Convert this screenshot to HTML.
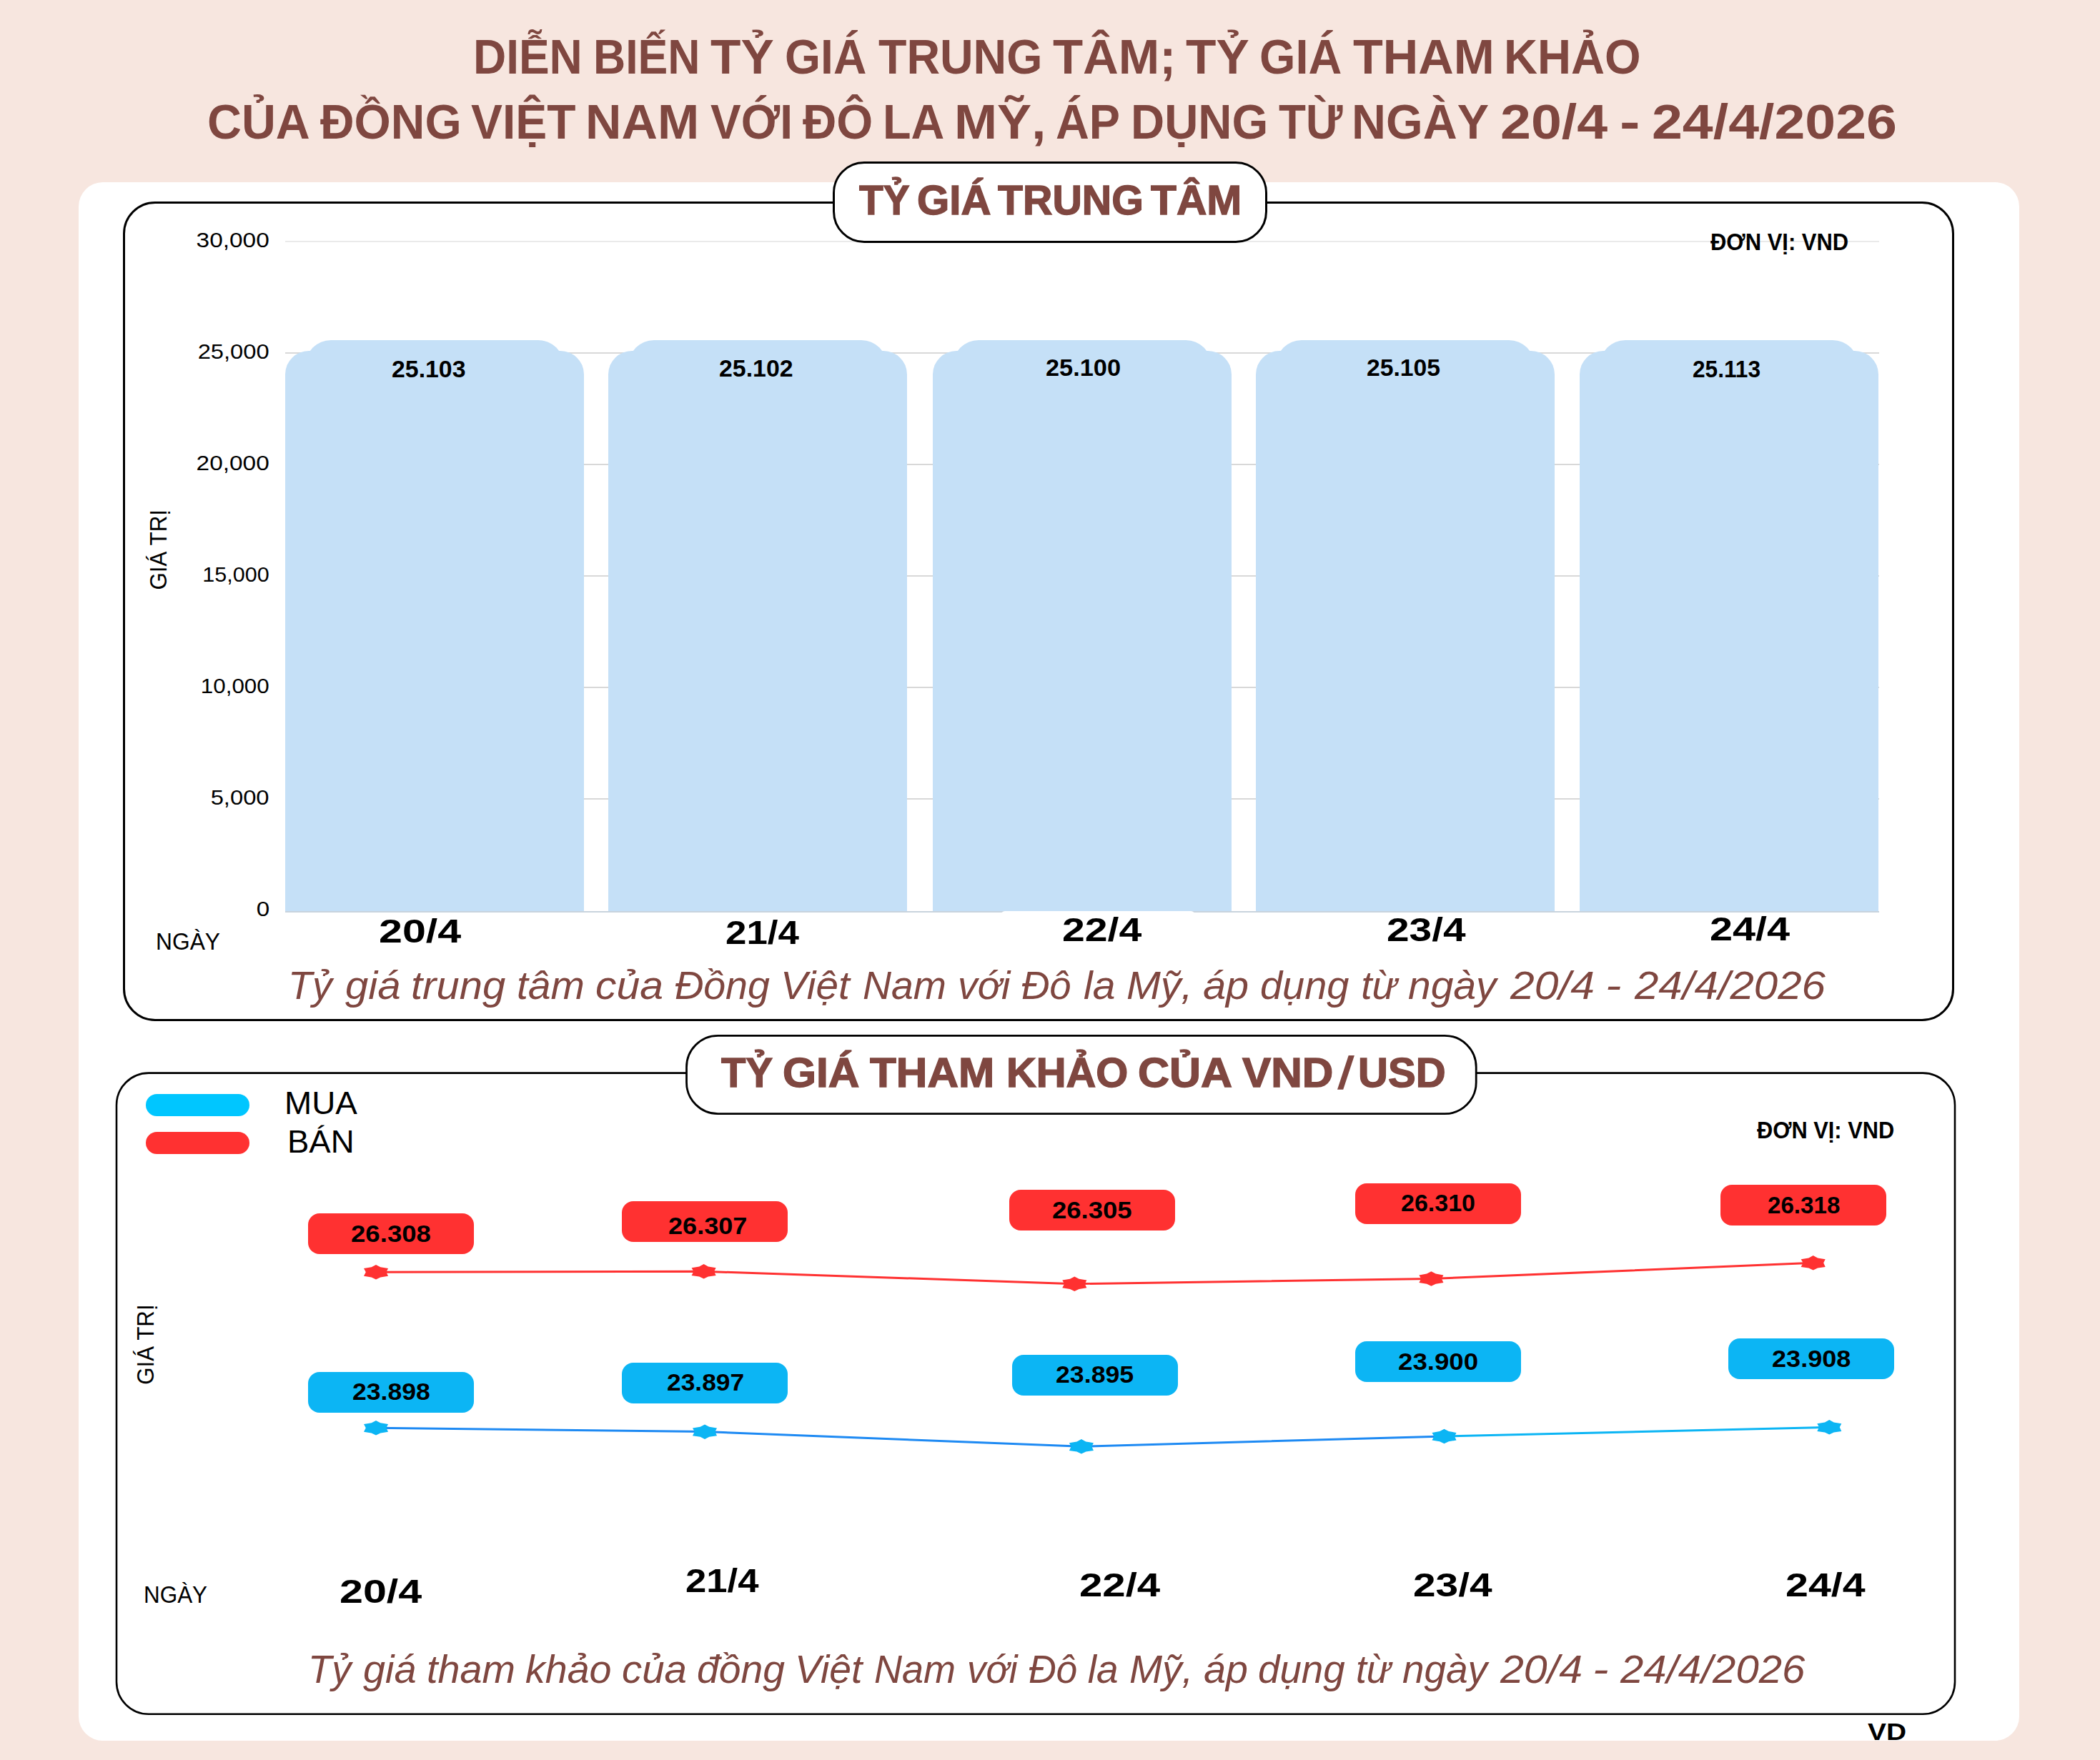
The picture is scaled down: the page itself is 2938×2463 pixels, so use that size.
<!DOCTYPE html>
<html><head><meta charset="utf-8"><style>
html,body{margin:0;padding:0}
body{width:2938px;height:2463px;background:#F7E6DF;position:relative;overflow:hidden;font-family:"Liberation Sans", sans-serif}
.t{position:absolute;white-space:nowrap;line-height:1}
</style></head><body>
<div style="position:absolute;left:110px;top:255px;width:2715px;height:2181px;background:#fff;border-radius:34px;overflow:hidden"></div>
<div style="position:absolute;left:172px;top:281.5px;width:2556px;height:1141px;border:3px solid #000;border-radius:45px"></div>
<div style="position:absolute;left:399px;top:337px;width:2230px;height:2px;background:#EAEAEA"></div>
<div style="position:absolute;left:399px;top:493px;width:2230px;height:2px;background:#D8D8D8"></div>
<div style="position:absolute;left:399px;top:649px;width:2230px;height:2px;background:#D8D8D8"></div>
<div style="position:absolute;left:399px;top:805px;width:2230px;height:2px;background:#D8D8D8"></div>
<div style="position:absolute;left:399px;top:961px;width:2230px;height:2px;background:#D8D8D8"></div>
<div style="position:absolute;left:399px;top:1117px;width:2230px;height:2px;background:#D8D8D8"></div>
<div style="position:absolute;left:399px;top:1275px;width:2230px;height:1.5px;background:#C9D3DD"></div>
<div style="position:absolute;left:399px;top:491px;width:418px;height:784px;background:#C5E0F7;border-radius:33px 33px 0 0"></div>
<div style="position:absolute;left:427px;top:476px;width:362px;height:200px;background:#C5E0F7;border-radius:36px 36px 0 0"></div>
<div style="position:absolute;left:851px;top:491px;width:418px;height:784px;background:#C5E0F7;border-radius:33px 33px 0 0"></div>
<div style="position:absolute;left:879px;top:476px;width:362px;height:200px;background:#C5E0F7;border-radius:36px 36px 0 0"></div>
<div style="position:absolute;left:1305px;top:491px;width:418px;height:784px;background:#C5E0F7;border-radius:33px 33px 0 0"></div>
<div style="position:absolute;left:1333px;top:476px;width:362px;height:200px;background:#C5E0F7;border-radius:36px 36px 0 0"></div>
<div style="position:absolute;left:1757px;top:491px;width:418px;height:784px;background:#C5E0F7;border-radius:33px 33px 0 0"></div>
<div style="position:absolute;left:1785px;top:476px;width:362px;height:200px;background:#C5E0F7;border-radius:36px 36px 0 0"></div>
<div style="position:absolute;left:2210px;top:491px;width:418px;height:784px;background:#C5E0F7;border-radius:33px 33px 0 0"></div>
<div style="position:absolute;left:2238px;top:476px;width:362px;height:200px;background:#C5E0F7;border-radius:36px 36px 0 0"></div>
<div style="position:absolute;left:1400px;top:1275px;width:272px;height:12px;background:#fff;border-radius:6px 6px 0 0"></div>
<div style="position:absolute;left:1164.5px;top:225.5px;width:602px;height:108px;border:3px solid #000;border-radius:44px;background:#fff"></div>
<svg style="position:absolute;left:0;top:0" width="2938" height="2463"><rect x="163" y="1501.6" width="2572" height="897.2" rx="45" ry="45" fill="none" stroke="#000" stroke-width="2.6"/></svg>
<svg style="position:absolute;left:0;top:0" width="2938" height="2463"><rect x="960.5" y="1449.3" width="1104.7" height="109.4" rx="44" ry="44" fill="#fff" stroke="#000" stroke-width="2.8"/></svg>
<div style="position:absolute;left:204px;top:1530.5px;width:145px;height:31px;border-radius:16px;background:#00C6FF"></div>
<div style="position:absolute;left:204px;top:1583.5px;width:145px;height:31px;border-radius:16px;background:#FF3131"></div>
<div style="position:absolute;left:431px;top:1698px;width:232px;height:57px;border-radius:16px;background:#FF3131"></div>
<div style="position:absolute;left:870px;top:1681px;width:232px;height:57px;border-radius:16px;background:#FF3131"></div>
<div style="position:absolute;left:1412px;top:1665px;width:232px;height:57px;border-radius:16px;background:#FF3131"></div>
<div style="position:absolute;left:1896px;top:1656px;width:232px;height:57px;border-radius:16px;background:#FF3131"></div>
<div style="position:absolute;left:2407px;top:1658px;width:232px;height:57px;border-radius:16px;background:#FF3131"></div>
<div style="position:absolute;left:431px;top:1919.5px;width:232px;height:57px;border-radius:16px;background:#0CB5F4"></div>
<div style="position:absolute;left:870px;top:1906.5px;width:232px;height:57px;border-radius:16px;background:#0CB5F4"></div>
<div style="position:absolute;left:1416px;top:1895.5px;width:232px;height:57px;border-radius:16px;background:#0CB5F4"></div>
<div style="position:absolute;left:1896px;top:1877.3px;width:232px;height:57px;border-radius:16px;background:#0CB5F4"></div>
<div style="position:absolute;left:2418px;top:1873px;width:232px;height:57px;border-radius:16px;background:#0CB5F4"></div>
<svg style="position:absolute;left:0;top:0" width="2938" height="2463" viewBox="0 0 2938 2463"><defs><linearGradient id="bg1" x1="526" y1="0" x2="2560" y2="0" gradientUnits="userSpaceOnUse"><stop offset="0" stop-color="#1E8CF2"/><stop offset="0.7" stop-color="#1E8CF2"/><stop offset="1" stop-color="#12B4F2"/></linearGradient></defs><polyline fill="none" stroke="#FF3131" stroke-width="3" points="526,1780.2 984.6,1779.3 1503.3,1796.7 2002.4,1789.5 2536.7,1767.3"/><polyline fill="none" stroke="#1E8AF3" stroke-width="3" stroke-linejoin="round" points="526,1998.2 986,2003.6 1512.9,2024.3 2020.5,2010"/><polyline fill="none" stroke="#0CB5F4" stroke-width="3" points="2020.5,2010 2559.3,1997.3"/><polygon fill="#FF3131" points="526.0,1770.0 532.3,1773.3 543.0,1775.1 540.5,1780.2 543.0,1785.8 532.3,1787.4 526.0,1790.5 519.7,1787.4 509.0,1785.8 511.8,1780.2 509.0,1775.1 519.7,1773.3"/><polygon fill="#FF3131" points="984.6,1769.1 990.9,1772.4 1001.6,1774.2 999.1,1779.3 1001.6,1784.9 990.9,1786.5 984.6,1789.6 978.3,1786.5 967.6,1784.9 970.4,1779.3 967.6,1774.2 978.3,1772.4"/><polygon fill="#FF3131" points="1503.3,1786.5 1509.6,1789.8 1520.3,1791.6 1517.8,1796.7 1520.3,1802.3 1509.6,1803.9 1503.3,1807.0 1497.0,1803.9 1486.3,1802.3 1489.1,1796.7 1486.3,1791.6 1497.0,1789.8"/><polygon fill="#FF3131" points="2002.4,1779.3 2008.7,1782.6 2019.4,1784.4 2016.9,1789.5 2019.4,1795.1 2008.7,1796.7 2002.4,1799.8 1996.1,1796.7 1985.4,1795.1 1988.2,1789.5 1985.4,1784.4 1996.1,1782.6"/><polygon fill="#FF3131" points="2536.7,1757.1 2543.0,1760.4 2553.7,1762.2 2551.2,1767.3 2553.7,1772.9 2543.0,1774.5 2536.7,1777.6 2530.4,1774.5 2519.7,1772.9 2522.5,1767.3 2519.7,1762.2 2530.4,1760.4"/><polygon fill="#0CB5F4" points="526.0,1988.0 532.3,1991.3 543.0,1993.1 540.5,1998.2 543.0,2003.8 532.3,2005.4 526.0,2008.5 519.7,2005.4 509.0,2003.8 511.8,1998.2 509.0,1993.1 519.7,1991.3"/><polygon fill="#0CB5F4" points="986.0,1993.4 992.3,1996.7 1003.0,1998.5 1000.5,2003.6 1003.0,2009.2 992.3,2010.8 986.0,2013.9 979.7,2010.8 969.0,2009.2 971.8,2003.6 969.0,1998.5 979.7,1996.7"/><polygon fill="#0CB5F4" points="1512.9,2014.1 1519.2,2017.4 1529.9,2019.2 1527.4,2024.3 1529.9,2029.9 1519.2,2031.5 1512.9,2034.6 1506.6,2031.5 1495.9,2029.9 1498.7,2024.3 1495.9,2019.2 1506.6,2017.4"/><polygon fill="#0CB5F4" points="2020.5,1999.8 2026.8,2003.1 2037.5,2004.9 2035.0,2010.0 2037.5,2015.6 2026.8,2017.2 2020.5,2020.3 2014.2,2017.2 2003.5,2015.6 2006.3,2010.0 2003.5,2004.9 2014.2,2003.1"/><polygon fill="#0CB5F4" points="2559.3,1987.1 2565.6,1990.4 2576.3,1992.2 2573.8,1997.3 2576.3,2002.9 2565.6,2004.5 2559.3,2007.6 2553.0,2004.5 2542.3,2002.9 2545.1,1997.3 2542.3,1992.2 2553.0,1990.4"/><polygon fill="#7F4740" points="1886.7,1477.1 1894.9,1477.1 1879.2,1524.8 1871,1524.8"/></svg>
<div class="t" id="gt1" style="left:0;top:0;font-size:33px;transform-origin:0 0;transform:translate(205.2px,825.6px) rotate(-90deg) scaleX(0.95)">GIÁ TRỊ</div>
<div class="t" id="gt2" style="left:0;top:0;font-size:33px;transform-origin:0 0;transform:translate(186.7px,1937.7px) rotate(-90deg) scaleX(0.947)">GIÁ TRỊ</div>
<div class="t" id="t1_0" style="top:45.44px;font-size:68px;font-weight:700;font-style:normal;color:#7F4740;left:662.46px;transform-origin:0 0;transform:scaleX(0.9403);">DIỄN</div>
<div class="t" id="t1_1" style="top:45.44px;font-size:68px;font-weight:700;font-style:normal;color:#7F4740;left:829.97px;transform-origin:0 0;transform:scaleX(0.9203);">BIẾN</div>
<div class="t" id="t1_2" style="top:45.44px;font-size:68px;font-weight:700;font-style:normal;color:#7F4740;left:994.36px;transform-origin:0 0;transform:scaleX(1.0202);">TỶ</div>
<div class="t" id="t1_3" style="top:45.44px;font-size:68px;font-weight:700;font-style:normal;color:#7F4740;left:1097.96px;transform-origin:0 0;transform:scaleX(0.9457);">GIÁ</div>
<div class="t" id="t1_4" style="top:45.44px;font-size:68px;font-weight:700;font-style:normal;color:#7F4740;left:1228.82px;transform-origin:0 0;transform:scaleX(0.9489);">TRUNG</div>
<div class="t" id="t1_5" style="top:45.44px;font-size:68px;font-weight:700;font-style:normal;color:#7F4740;left:1472.78px;transform-origin:0 0;transform:scaleX(1.0135);">TÂM;</div>
<div class="t" id="t1_6" style="top:45.44px;font-size:68px;font-weight:700;font-style:normal;color:#7F4740;left:1658.98px;transform-origin:0 0;transform:scaleX(1.0202);">TỶ</div>
<div class="t" id="t1_7" style="top:45.44px;font-size:68px;font-weight:700;font-style:normal;color:#7F4740;left:1761.72px;transform-origin:0 0;transform:scaleX(0.9534);">GIÁ</div>
<div class="t" id="t1_8" style="top:45.44px;font-size:68px;font-weight:700;font-style:normal;color:#7F4740;left:1892.79px;transform-origin:0 0;transform:scaleX(1.0068);">THAM</div>
<div class="t" id="t1_9" style="top:45.44px;font-size:68px;font-weight:700;font-style:normal;color:#7F4740;left:2104.38px;transform-origin:0 0;transform:scaleX(0.9575);">KHẢO</div>
<div class="t" id="t2_0" style="top:136.44px;font-size:68px;font-weight:700;font-style:normal;color:#7F4740;left:289.87px;transform-origin:0 0;transform:scaleX(0.9754);">CỦA</div>
<div class="t" id="t2_1" style="top:136.44px;font-size:68px;font-weight:700;font-style:normal;color:#7F4740;left:448.21px;transform-origin:0 0;transform:scaleX(0.9688);">ĐỒNG</div>
<div class="t" id="t2_2" style="top:136.44px;font-size:68px;font-weight:700;font-style:normal;color:#7F4740;left:659.03px;transform-origin:0 0;transform:scaleX(0.9685);">VIỆT</div>
<div class="t" id="t2_3" style="top:136.44px;font-size:68px;font-weight:700;font-style:normal;color:#7F4740;left:819.47px;transform-origin:0 0;transform:scaleX(1.0274);">NAM</div>
<div class="t" id="t2_4" style="top:136.44px;font-size:68px;font-weight:700;font-style:normal;color:#7F4740;left:993.64px;transform-origin:0 0;transform:scaleX(0.9402);">VỚI</div>
<div class="t" id="t2_5" style="top:136.44px;font-size:68px;font-weight:700;font-style:normal;color:#7F4740;left:1123.40px;transform-origin:0 0;transform:scaleX(0.9636);">ĐÔ</div>
<div class="t" id="t2_6" style="top:136.44px;font-size:68px;font-weight:700;font-style:normal;color:#7F4740;left:1235.24px;transform-origin:0 0;transform:scaleX(0.9524);">LA</div>
<div class="t" id="t2_7" style="top:136.44px;font-size:68px;font-weight:700;font-style:normal;color:#7F4740;left:1334.70px;transform-origin:0 0;transform:scaleX(1.0604);">MỸ,</div>
<div class="t" id="t2_8" style="top:136.44px;font-size:68px;font-weight:700;font-style:normal;color:#7F4740;left:1477.28px;transform-origin:0 0;transform:scaleX(0.9533);">ÁP</div>
<div class="t" id="t2_9" style="top:136.44px;font-size:68px;font-weight:700;font-style:normal;color:#7F4740;left:1581.56px;transform-origin:0 0;transform:scaleX(0.9599);">DỤNG</div>
<div class="t" id="t2_10" style="top:136.44px;font-size:68px;font-weight:700;font-style:normal;color:#7F4740;left:1789.09px;transform-origin:0 0;transform:scaleX(0.9134);">TỪ</div>
<div class="t" id="t2_11" style="top:136.44px;font-size:68px;font-weight:700;font-style:normal;color:#7F4740;left:1891.49px;transform-origin:0 0;transform:scaleX(0.9770);">NGÀY</div>
<div class="t" id="t2_12" style="top:136.44px;font-size:68px;font-weight:700;font-style:normal;color:#7F4740;left:2099.23px;transform-origin:0 0;transform:scaleX(1.1341);">20/4</div>
<div class="t" id="t2_13" style="top:136.44px;font-size:68px;font-weight:700;font-style:normal;color:#7F4740;left:2266.22px;transform-origin:0 0;transform:scaleX(1.2588);">-</div>
<div class="t" id="t2_14" style="top:136.44px;font-size:68px;font-weight:700;font-style:normal;color:#7F4740;left:2311.24px;transform-origin:0 0;transform:scaleX(1.1337);">24/4/2026</div>
<div class="t" id="p1_0" style="top:251.40px;font-size:58px;font-weight:700;font-style:normal;color:#7F4740;left:1202.21px;transform-origin:0 0;transform:scaleX(0.9521);-webkit-text-stroke:1.4px #7F4740;">TỶ</div>
<div class="t" id="p1_1" style="top:251.40px;font-size:58px;font-weight:700;font-style:normal;color:#7F4740;left:1282.59px;transform-origin:0 0;transform:scaleX(1.0030);-webkit-text-stroke:1.4px #7F4740;">GIÁ</div>
<div class="t" id="p1_2" style="top:251.40px;font-size:58px;font-weight:700;font-style:normal;color:#7F4740;left:1395.80px;transform-origin:0 0;transform:scaleX(0.9881);-webkit-text-stroke:1.4px #7F4740;">TRUNG</div>
<div class="t" id="p1_3" style="top:251.40px;font-size:58px;font-weight:700;font-style:normal;color:#7F4740;left:1609.60px;transform-origin:0 0;transform:scaleX(1.0131);-webkit-text-stroke:1.4px #7F4740;">TÂM</div>
<div class="t" id="p2_0" style="top:1471.90px;font-size:58px;font-weight:700;font-style:normal;color:#7F4740;left:1009.19px;transform-origin:0 0;transform:scaleX(0.9716);-webkit-text-stroke:1.4px #7F4740;">TỶ</div>
<div class="t" id="p2_1" style="top:1471.90px;font-size:58px;font-weight:700;font-style:normal;color:#7F4740;left:1095.11px;transform-origin:0 0;transform:scaleX(1.0420);-webkit-text-stroke:1.4px #7F4740;">GIÁ</div>
<div class="t" id="p2_2" style="top:1471.90px;font-size:58px;font-weight:700;font-style:normal;color:#7F4740;left:1216.98px;transform-origin:0 0;transform:scaleX(1.0396);-webkit-text-stroke:1.4px #7F4740;">THAM</div>
<div class="t" id="p2_3" style="top:1471.90px;font-size:58px;font-weight:700;font-style:normal;color:#7F4740;left:1408.01px;transform-origin:0 0;transform:scaleX(0.9976);-webkit-text-stroke:1.4px #7F4740;">KHẢO</div>
<div class="t" id="p2_4" style="top:1471.90px;font-size:58px;font-weight:700;font-style:normal;color:#7F4740;left:1592.27px;transform-origin:0 0;transform:scaleX(1.0508);-webkit-text-stroke:1.4px #7F4740;">CỦA</div>
<div class="t" id="p2_5" style="top:1471.90px;font-size:58px;font-weight:700;font-style:normal;color:#7F4740;left:1738.20px;transform-origin:0 0;transform:scaleX(1.0388);-webkit-text-stroke:1.4px #7F4740;">VND</div>
<div class="t" id="p2_6" style="top:1471.90px;font-size:58px;font-weight:700;font-style:normal;color:#7F4740;left:1899.79px;transform-origin:0 0;transform:scaleX(1.0009);-webkit-text-stroke:1.4px #7F4740;">USD</div>
<div class="t" id="u1" style="top:320.72px;font-size:34px;font-weight:700;font-style:normal;color:#000;left:2393.00px;transform-origin:0 0;transform:scaleX(0.9100);">ĐƠN VỊ: VND</div>
<div class="t" id="u2" style="top:1563.72px;font-size:34px;font-weight:700;font-style:normal;color:#000;left:2458.00px;transform-origin:0 0;transform:scaleX(0.9052);">ĐƠN VỊ: VND</div>
<div class="t" id="y0" style="top:321.95px;font-size:29px;font-weight:400;font-style:normal;color:#000;right:2561.00px;transform-origin:100% 0;transform:scaleX(1.1512);">30,000</div>
<div class="t" id="y1" style="top:477.95px;font-size:29px;font-weight:400;font-style:normal;color:#000;right:2561.00px;transform-origin:100% 0;transform:scaleX(1.1279);">25,000</div>
<div class="t" id="y2" style="top:633.95px;font-size:29px;font-weight:400;font-style:normal;color:#000;right:2561.00px;transform-origin:100% 0;transform:scaleX(1.1512);">20,000</div>
<div class="t" id="y3" style="top:789.95px;font-size:29px;font-weight:400;font-style:normal;color:#000;right:2561.00px;transform-origin:100% 0;transform:scaleX(1.0523);">15,000</div>
<div class="t" id="y4" style="top:945.95px;font-size:29px;font-weight:400;font-style:normal;color:#000;right:2561.00px;transform-origin:100% 0;transform:scaleX(1.0814);">10,000</div>
<div class="t" id="y5" style="top:1101.95px;font-size:29px;font-weight:400;font-style:normal;color:#000;right:2561.00px;transform-origin:100% 0;transform:scaleX(1.1286);">5,000</div>
<div class="t" id="y6" style="top:1257.95px;font-size:29px;font-weight:400;font-style:normal;color:#000;right:2561.00px;transform-origin:100% 0;transform:scaleX(1.1429);">0</div>
<div class="t" id="bv0" style="top:499.57px;font-size:33px;font-weight:700;font-style:normal;color:#000;left:547.96px;transform-origin:0 0;transform:scaleX(1.0255);">25.103</div>
<div class="t" id="bv1" style="top:499.07px;font-size:33px;font-weight:700;font-style:normal;color:#000;left:1005.97px;transform-origin:0 0;transform:scaleX(1.0263);">25.102</div>
<div class="t" id="bv2" style="top:497.77px;font-size:33px;font-weight:700;font-style:normal;color:#000;left:1462.96px;transform-origin:0 0;transform:scaleX(1.0404);">25.100</div>
<div class="t" id="bv3" style="top:497.77px;font-size:33px;font-weight:700;font-style:normal;color:#000;left:1911.98px;transform-origin:0 0;transform:scaleX(1.0202);">25.105</div>
<div class="t" id="bv4" style="top:500.07px;font-size:33px;font-weight:700;font-style:normal;color:#000;left:2368.04px;transform-origin:0 0;transform:scaleX(0.9588);">25.113</div>
<div class="t" id="ng1" style="top:1300.67px;font-size:33px;font-weight:400;font-style:normal;color:#000;left:218.11px;transform-origin:0 0;transform:scaleX(0.9622);">NGÀY</div>
<div class="t" id="d1_0" style="top:1279.66px;font-size:46px;font-weight:700;font-style:normal;color:#000;left:530.43px;transform-origin:0 0;transform:scaleX(1.2874);">20/4</div>
<div class="t" id="d1_1" style="top:1282.06px;font-size:46px;font-weight:700;font-style:normal;color:#000;left:1014.70px;transform-origin:0 0;transform:scaleX(1.1494);">21/4</div>
<div class="t" id="d1_2" style="top:1277.76px;font-size:46px;font-weight:700;font-style:normal;color:#000;left:1485.85px;transform-origin:0 0;transform:scaleX(1.2432);">22/4</div>
<div class="t" id="d1_3" style="top:1277.76px;font-size:46px;font-weight:700;font-style:normal;color:#000;left:1939.53px;transform-origin:0 0;transform:scaleX(1.2356);">23/4</div>
<div class="t" id="d1_4" style="top:1277.06px;font-size:46px;font-weight:700;font-style:normal;color:#000;left:2392.49px;transform-origin:0 0;transform:scaleX(1.2529);">24/4</div>
<div class="t" id="c1_0" style="top:1352.04px;font-size:55px;font-weight:400;font-style:italic;color:#7F4740;left:403.15px;transform-origin:0 0;transform:scaleX(1.0086);">Tỷ</div>
<div class="t" id="c1_1" style="top:1352.04px;font-size:55px;font-weight:400;font-style:italic;color:#7F4740;left:483.37px;transform-origin:0 0;transform:scaleX(1.0549);">giá</div>
<div class="t" id="c1_2" style="top:1352.04px;font-size:55px;font-weight:400;font-style:italic;color:#7F4740;left:575.26px;transform-origin:0 0;transform:scaleX(1.0541);">trung</div>
<div class="t" id="c1_3" style="top:1352.04px;font-size:55px;font-weight:400;font-style:italic;color:#7F4740;left:723.31px;transform-origin:0 0;transform:scaleX(1.0345);">tâm</div>
<div class="t" id="c1_4" style="top:1352.04px;font-size:55px;font-weight:400;font-style:italic;color:#7F4740;left:833.22px;transform-origin:0 0;transform:scaleX(1.0714);">của</div>
<div class="t" id="c1_5" style="top:1352.04px;font-size:55px;font-weight:400;font-style:italic;color:#7F4740;left:943.59px;transform-origin:0 0;transform:scaleX(1.0108);">Đồng</div>
<div class="t" id="c1_6" style="top:1352.04px;font-size:55px;font-weight:400;font-style:italic;color:#7F4740;left:1092.04px;transform-origin:0 0;transform:scaleX(1.0308);">Việt</div>
<div class="t" id="c1_7" style="top:1352.04px;font-size:55px;font-weight:400;font-style:italic;color:#7F4740;left:1207.18px;transform-origin:0 0;transform:scaleX(1.0071);">Nam</div>
<div class="t" id="c1_8" style="top:1352.04px;font-size:55px;font-weight:400;font-style:italic;color:#7F4740;left:1339.77px;transform-origin:0 0;transform:scaleX(1.0056);">với</div>
<div class="t" id="c1_9" style="top:1352.04px;font-size:55px;font-weight:400;font-style:italic;color:#7F4740;left:1429.01px;transform-origin:0 0;transform:scaleX(0.9868);">Đô</div>
<div class="t" id="c1_10" style="top:1352.04px;font-size:55px;font-weight:400;font-style:italic;color:#7F4740;left:1515.77px;transform-origin:0 0;transform:scaleX(1.0375);">la</div>
<div class="t" id="c1_11" style="top:1352.04px;font-size:55px;font-weight:400;font-style:italic;color:#7F4740;left:1575.70px;transform-origin:0 0;transform:scaleX(1.0437);">Mỹ,</div>
<div class="t" id="c1_12" style="top:1352.04px;font-size:55px;font-weight:400;font-style:italic;color:#7F4740;left:1682.51px;transform-origin:0 0;transform:scaleX(1.0483);">áp</div>
<div class="t" id="c1_13" style="top:1352.04px;font-size:55px;font-weight:400;font-style:italic;color:#7F4740;left:1763.16px;transform-origin:0 0;transform:scaleX(1.0167);">dụng</div>
<div class="t" id="c1_14" style="top:1352.04px;font-size:55px;font-weight:400;font-style:italic;color:#7F4740;left:1904.19px;transform-origin:0 0;">từ</div>
<div class="t" id="c1_15" style="top:1352.04px;font-size:55px;font-weight:400;font-style:italic;color:#7F4740;left:1969.73px;transform-origin:0 0;transform:scaleX(1.0358);">ngày</div>
<div class="t" id="c1_16" style="top:1352.04px;font-size:55px;font-weight:400;font-style:italic;color:#7F4740;left:2112.78px;transform-origin:0 0;transform:scaleX(1.1019);">20/4</div>
<div class="t" id="c1_17" style="top:1352.04px;font-size:55px;font-weight:400;font-style:italic;color:#7F4740;left:2246.34px;transform-origin:0 0;transform:scaleX(1.2214);">-</div>
<div class="t" id="c1_18" style="top:1352.04px;font-size:55px;font-weight:400;font-style:italic;color:#7F4740;left:2287.20px;transform-origin:0 0;transform:scaleX(1.0906);">24/4/2026</div>
<div class="t" id="mua" style="top:1521.21px;font-size:45px;font-weight:400;font-style:normal;color:#000;left:397.93px;transform-origin:0 0;transform:scaleX(1.0177);">MUA</div>
<div class="t" id="ban" style="top:1574.91px;font-size:45px;font-weight:400;font-style:normal;color:#000;left:401.95px;transform-origin:0 0;transform:scaleX(1.0118);">BÁN</div>
<div class="t" id="r0" style="top:1709.57px;font-size:33px;font-weight:700;font-style:normal;color:#000;left:490.89px;transform-origin:0 0;transform:scaleX(1.1091);">26.308</div>
<div class="t" id="r1" style="top:1698.87px;font-size:33px;font-weight:700;font-style:normal;color:#000;left:934.64px;transform-origin:0 0;transform:scaleX(1.0939);">26.307</div>
<div class="t" id="r2" style="top:1676.87px;font-size:33px;font-weight:700;font-style:normal;color:#000;left:1472.47px;transform-origin:0 0;transform:scaleX(1.1061);">26.305</div>
<div class="t" id="r3" style="top:1667.27px;font-size:33px;font-weight:700;font-style:normal;color:#000;left:1959.97px;transform-origin:0 0;transform:scaleX(1.0303);">26.310</div>
<div class="t" id="r4" style="top:1670.37px;font-size:33px;font-weight:700;font-style:normal;color:#000;left:2472.59px;transform-origin:0 0;transform:scaleX(1.0040);">26.318</div>
<div class="t" id="b0" style="top:1931.07px;font-size:33px;font-weight:700;font-style:normal;color:#000;left:492.92px;transform-origin:0 0;transform:scaleX(1.0778);">23.898</div>
<div class="t" id="b1" style="top:1918.47px;font-size:33px;font-weight:700;font-style:normal;color:#000;left:932.93px;transform-origin:0 0;transform:scaleX(1.0714);">23.897</div>
<div class="t" id="b2" style="top:1906.87px;font-size:33px;font-weight:700;font-style:normal;color:#000;left:1477.08px;transform-origin:0 0;transform:scaleX(1.0818);">23.895</div>
<div class="t" id="b3" style="top:1889.07px;font-size:33px;font-weight:700;font-style:normal;color:#000;left:1955.89px;transform-origin:0 0;transform:scaleX(1.1111);">23.900</div>
<div class="t" id="b4" style="top:1884.77px;font-size:33px;font-weight:700;font-style:normal;color:#000;left:2478.91px;transform-origin:0 0;transform:scaleX(1.0939);">23.908</div>
<div class="t" id="ng2" style="top:2214.57px;font-size:33px;font-weight:400;font-style:normal;color:#000;left:201.12px;transform-origin:0 0;transform:scaleX(0.9522);">NGÀY</div>
<div class="t" id="d2_0" style="top:2203.56px;font-size:46px;font-weight:700;font-style:normal;color:#000;left:475.43px;transform-origin:0 0;transform:scaleX(1.2874);">20/4</div>
<div class="t" id="d2_1" style="top:2189.46px;font-size:46px;font-weight:700;font-style:normal;color:#000;left:958.71px;transform-origin:0 0;transform:scaleX(1.1448);">21/4</div>
<div class="t" id="d2_2" style="top:2195.36px;font-size:46px;font-weight:700;font-style:normal;color:#000;left:1510.47px;transform-origin:0 0;transform:scaleX(1.2644);">22/4</div>
<div class="t" id="d2_3" style="top:2195.06px;font-size:46px;font-weight:700;font-style:normal;color:#000;left:1976.53px;transform-origin:0 0;transform:scaleX(1.2356);">23/4</div>
<div class="t" id="d2_4" style="top:2195.06px;font-size:46px;font-weight:700;font-style:normal;color:#000;left:2497.51px;transform-origin:0 0;transform:scaleX(1.2471);">24/4</div>
<div class="t" id="c2_0" style="top:2309.44px;font-size:55px;font-weight:400;font-style:italic;color:#7F4740;left:430.87px;transform-origin:0 0;transform:scaleX(0.9862);">Tỷ</div>
<div class="t" id="c2_1" style="top:2309.44px;font-size:55px;font-weight:400;font-style:italic;color:#7F4740;left:508.38px;transform-origin:0 0;transform:scaleX(1.0141);">giá</div>
<div class="t" id="c2_2" style="top:2309.44px;font-size:55px;font-weight:400;font-style:italic;color:#7F4740;left:596.56px;transform-origin:0 0;transform:scaleX(1.0137);">tham</div>
<div class="t" id="c2_3" style="top:2309.44px;font-size:55px;font-weight:400;font-style:italic;color:#7F4740;left:734.77px;transform-origin:0 0;transform:scaleX(1.0103);">khảo</div>
<div class="t" id="c2_4" style="top:2309.44px;font-size:55px;font-weight:400;font-style:italic;color:#7F4740;left:870.14px;transform-origin:0 0;transform:scaleX(1.0259);">của</div>
<div class="t" id="c2_5" style="top:2309.44px;font-size:55px;font-weight:400;font-style:italic;color:#7F4740;left:974.78px;transform-origin:0 0;transform:scaleX(1.0058);">đồng</div>
<div class="t" id="c2_6" style="top:2309.44px;font-size:55px;font-weight:400;font-style:italic;color:#7F4740;left:1112.17px;transform-origin:0 0;transform:scaleX(1.0055);">Việt</div>
<div class="t" id="c2_7" style="top:2309.44px;font-size:55px;font-weight:400;font-style:italic;color:#7F4740;left:1222.63px;transform-origin:0 0;transform:scaleX(0.9821);">Nam</div>
<div class="t" id="c2_8" style="top:2309.44px;font-size:55px;font-weight:400;font-style:italic;color:#7F4740;left:1352.50px;transform-origin:0 0;transform:scaleX(0.9662);">với</div>
<div class="t" id="c2_9" style="top:2309.44px;font-size:55px;font-weight:400;font-style:italic;color:#7F4740;left:1438.62px;transform-origin:0 0;transform:scaleX(0.9662);">Đô</div>
<div class="t" id="c2_10" style="top:2309.44px;font-size:55px;font-weight:400;font-style:italic;color:#7F4740;left:1521.79px;transform-origin:0 0;">la</div>
<div class="t" id="c2_11" style="top:2309.44px;font-size:55px;font-weight:400;font-style:italic;color:#7F4740;left:1579.78px;transform-origin:0 0;transform:scaleX(1.0062);">Mỹ,</div>
<div class="t" id="c2_12" style="top:2309.44px;font-size:55px;font-weight:400;font-style:italic;color:#7F4740;left:1684.37px;transform-origin:0 0;transform:scaleX(1.0103);">áp</div>
<div class="t" id="c2_13" style="top:2309.44px;font-size:55px;font-weight:400;font-style:italic;color:#7F4740;left:1760.01px;transform-origin:0 0;transform:scaleX(0.9950);">dụng</div>
<div class="t" id="c2_14" style="top:2309.44px;font-size:55px;font-weight:400;font-style:italic;color:#7F4740;left:1897.08px;transform-origin:0 0;transform:scaleX(0.9720);">từ</div>
<div class="t" id="c2_15" style="top:2309.44px;font-size:55px;font-weight:400;font-style:italic;color:#7F4740;left:1961.79px;transform-origin:0 0;transform:scaleX(0.9983);">ngày</div>
<div class="t" id="c2_16" style="top:2309.44px;font-size:55px;font-weight:400;font-style:italic;color:#7F4740;left:2099.24px;transform-origin:0 0;transform:scaleX(1.0743);">20/4</div>
<div class="t" id="c2_17" style="top:2309.44px;font-size:55px;font-weight:400;font-style:italic;color:#7F4740;left:2228.19px;transform-origin:0 0;transform:scaleX(1.2286);">-</div>
<div class="t" id="c2_18" style="top:2309.44px;font-size:55px;font-weight:400;font-style:italic;color:#7F4740;left:2267.20px;transform-origin:0 0;transform:scaleX(1.0555);">24/4/2026</div>
<div class="t" id="vd" style="top:2406.22px;font-size:34px;font-weight:700;font-style:normal;color:#000;left:2612.93px;transform-origin:0 0;transform:scaleX(1.1444);">VD</div>
</body></html>
